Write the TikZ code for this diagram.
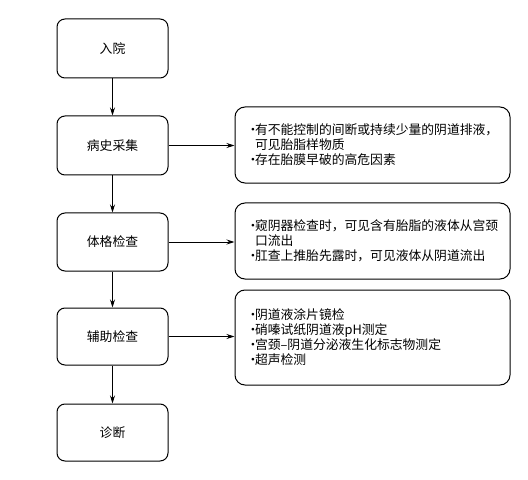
\documentclass[tikz,border=0pt]{standalone}
\usepackage{fontspec}
\setmainfont{Noto Sans CJK SC}
\usetikzlibrary{arrows.meta}
\begin{document}
\begin{tikzpicture}[x=1bp,y=-1bp,
  lbox/.style={draw, line width=1bp, rounded corners=8bp, minimum width=111bp, inner sep=0pt,
    font=\fontsize{12.8bp}{15bp}\selectfont},
  rbox/.style={draw, line width=1bp, rounded corners=10bp, minimum width=275bp, text width=253bp,
    inner xsep=11bp, inner ysep=0pt, align=left, font=\fontsize{12.8bp}{15bp}\selectfont},
  arr/.style={line width=0.9bp, -{Stealth[length=8bp,width=5bp]}}]
\useasboundingbox (0,0) rectangle (528,480);
\newcommand{\bul}{\makebox[9bp][l]{\hspace*{0.5bp}•}}
\newcommand{\ind}{\hspace*{9bp}}
\node[lbox, minimum height=59bp] (b1) at (112.5,48.5) {入院};
\node[lbox, minimum height=59bp] (b2) at (112.5,145.5) {病史采集};
\node[lbox, minimum height=58bp] (b3) at (112.5,242) {体格检查};
\node[lbox, minimum height=57bp] (b4) at (112.5,336.5) {辅助检查};
\node[lbox, minimum height=57bp] (b5) at (112.5,432.5) {诊断};
\node[rbox, minimum height=76bp] (r1) at (372.5,145) {\bul 有不能控制的间断或持续少量的阴道排液，\\ \ind 可见胎脂样物质\\ \bul 存在胎膜早破的高危因素};
\node[rbox, minimum height=76bp] (r2) at (372.5,241) {\bul 窥阴器检查时，可见含有胎脂的液体从宫颈\\ \ind 口流出\\ \bul 肛查上推胎先露时，可见液体从阴道流出};
\node[rbox, minimum height=95bp] (r3) at (372.5,337.5) {\bul 阴道液涂片镜检\\ \bul 硝嗪试纸阴道液pH测定\\ \bul 宫颈–阴道分泌液生化标志物测定\\ \bul 超声检测};
\draw[arr] (b1) -- (b2);
\draw[arr] (b2) -- (b3);
\draw[arr] (b3) -- (b4);
\draw[arr] (b4) -- (b5);
\draw[arr] (b2.east) -- (b2.east -| r1.west);
\draw[arr] (b3.east) -- (b3.east -| r2.west);
\draw[arr] (b4.east) -- (b4.east -| r3.west);
\end{tikzpicture}
\end{document}
